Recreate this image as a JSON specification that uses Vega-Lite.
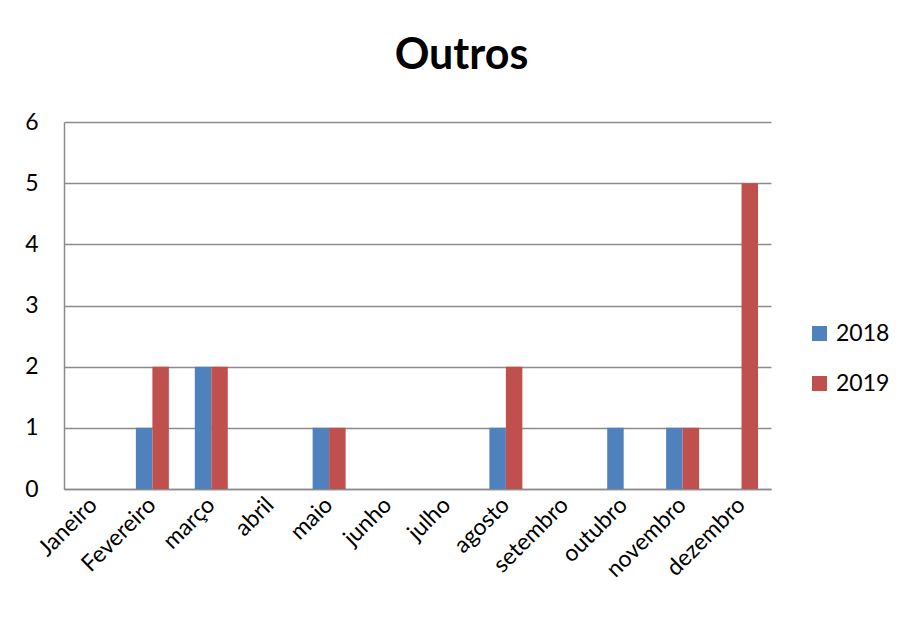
{
  "$schema": "https://vega.github.io/schema/vega-lite/v6.json",
  "autosize": "none",
  "width": 707,
  "height": 367,
  "padding": {"left": 64, "top": 122, "right": 152, "bottom": 132},
  "background": "white",
  "title": {
    "text": "Outros",
    "font": "Lato",
    "fontSize": 43,
    "fontWeight": "bold",
    "color": "black",
    "anchor": "middle",
    "dx": 44,
    "offset": 33
  },
  "data": {
    "values": [
      {"mes": "Janeiro", "ano": "2018", "valor": 0},
      {"mes": "Janeiro", "ano": "2019", "valor": 0},
      {"mes": "Fevereiro", "ano": "2018", "valor": 1},
      {"mes": "Fevereiro", "ano": "2019", "valor": 2},
      {"mes": "março", "ano": "2018", "valor": 2},
      {"mes": "março", "ano": "2019", "valor": 2},
      {"mes": "abril", "ano": "2018", "valor": 0},
      {"mes": "abril", "ano": "2019", "valor": 0},
      {"mes": "maio", "ano": "2018", "valor": 1},
      {"mes": "maio", "ano": "2019", "valor": 1},
      {"mes": "junho", "ano": "2018", "valor": 0},
      {"mes": "junho", "ano": "2019", "valor": 0},
      {"mes": "julho", "ano": "2018", "valor": 0},
      {"mes": "julho", "ano": "2019", "valor": 0},
      {"mes": "agosto", "ano": "2018", "valor": 1},
      {"mes": "agosto", "ano": "2019", "valor": 2},
      {"mes": "setembro", "ano": "2018", "valor": 0},
      {"mes": "setembro", "ano": "2019", "valor": 0},
      {"mes": "outubro", "ano": "2018", "valor": 1},
      {"mes": "outubro", "ano": "2019", "valor": 0},
      {"mes": "novembro", "ano": "2018", "valor": 1},
      {"mes": "novembro", "ano": "2019", "valor": 1},
      {"mes": "dezembro", "ano": "2018", "valor": 0},
      {"mes": "dezembro", "ano": "2019", "valor": 5}
    ]
  },
  "mark": {"type": "bar"},
  "encoding": {
    "x": {
      "field": "mes",
      "type": "nominal",
      "sort": null,
      "scale": {"paddingInner": 0.44, "paddingOuter": 0.22},
      "axis": {
        "title": null,
        "labelAngle": -45,
        "labelAlign": "right",
        "labelBaseline": "middle",
        "labelFont": "Lato",
        "labelFontSize": 23,
        "labelColor": "black",
        "labelPadding": 12,
        "ticks": false,
        "domainColor": "#8c8c8c",
        "domainWidth": 1.5,
        "grid": false
      }
    },
    "xOffset": {"field": "ano", "type": "nominal"},
    "y": {
      "field": "valor",
      "type": "quantitative",
      "scale": {"domain": [0, 6], "nice": false},
      "axis": {
        "title": null,
        "values": [0, 1, 2, 3, 4, 5, 6],
        "labelFont": "Lato",
        "labelFontSize": 23,
        "labelColor": "black",
        "labelPadding": 26,
        "ticks": false,
        "domainColor": "#8c8c8c",
        "domainWidth": 1.5,
        "grid": true,
        "gridColor": "#8c8c8c",
        "gridWidth": 1.5
      }
    },
    "color": {
      "field": "ano",
      "type": "nominal",
      "scale": {"domain": ["2018", "2019"], "range": ["#4F81BD", "#C0504D"]},
      "legend": {
        "title": null,
        "orient": "none",
        "legendX": 744,
        "legendY": 200,
        "symbolType": "square",
        "symbolSize": 225,
        "symbolStrokeWidth": 0,
        "labelFont": "Lato",
        "labelFontSize": 23,
        "labelColor": "black",
        "rowPadding": 26,
        "labelOffset": 5
      }
    }
  },
  "config": {"view": {"stroke": null}}
}
